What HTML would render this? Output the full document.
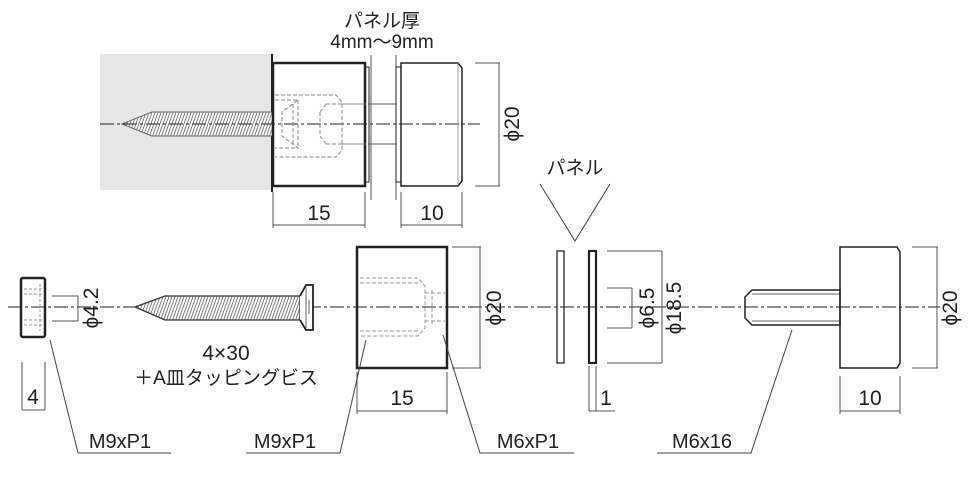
<!DOCTYPE html>
<html><head><meta charset="utf-8"><style>
html,body{margin:0;padding:0;background:#fff}
svg{display:block}
text{font-family:"Liberation Sans Narrow","Liberation Sans","Noto Sans CJK JP",sans-serif;fill:#222}
.j{font-family:"Liberation Sans","Noto Sans CJK JP",sans-serif}
</style></head><body>
<svg width="968" height="477" viewBox="0 0 968 477" xmlns="http://www.w3.org/2000/svg">
<defs>
<pattern id="th" width="3" height="24" patternUnits="userSpaceOnUse" patternTransform="skewX(-20)">
<rect width="3" height="24" fill="#fff"/><line x1="1" y1="0" x2="1" y2="24" stroke="#666" stroke-width="0.9"/>
</pattern>
</defs>
<rect x="100" y="54" width="172" height="136" fill="#e6e6e6"/>
<line x1="272" y1="54" x2="272" y2="192" stroke="#222" stroke-width="2"/>
<polygon points="122,124 152,112 273,112 273,136 152,136" fill="url(#th)" stroke="#666" stroke-width="1"/>
<line x1="100" y1="124" x2="480" y2="124" stroke="#222" stroke-width="1" stroke-dasharray="14,3,3,3"/>
<rect x="273" y="63" width="92" height="123" fill="none" stroke="#222" stroke-width="2.5"/>
<g fill="none" stroke="#888" stroke-width="1" stroke-dasharray="4,2">
<path d="M275,95 H336 L342,102 V150 L336,157 H275"/>
<path d="M342,104 H365 M342,144 H365"/>
<path d="M326,104 H370 M326,144 H370 M320,112 L326,104 M320,136 L326,144 M320,112 V136"/>
<path d="M275,100 H298 L282,112 V136 L298,148 H275 M298,100 V148 M293,104 V144"/>
</g>
<rect x="365" y="67" width="4" height="115" fill="none" stroke="#222" stroke-width="1"/>
<line x1="371" y1="55" x2="371" y2="200" stroke="#555" stroke-width="1"/>
<line x1="396" y1="55" x2="396" y2="200" stroke="#555" stroke-width="1"/>
<rect x="396" y="67" width="5" height="115" fill="none" stroke="#222" stroke-width="1"/>
<line x1="369" y1="104" x2="396" y2="104" stroke="#555"/><line x1="369" y1="144" x2="396" y2="144" stroke="#555"/>
<path d="M401,63 H458 L462,68 V181 L458,186 H401 Z" fill="none" stroke="#222" stroke-width="1.5"/>
<line x1="458" y1="63" x2="458" y2="186" stroke="#888" stroke-width="0.8"/>
<text x="382" y="27" font-size="19" text-anchor="middle" class="j">パネル厚</text>
<text x="382" y="48" font-size="19" text-anchor="middle">4mm～9mm</text>
<g stroke="#555" stroke-width="1" fill="none">
<path d="M475,63 H500 M475,186 H500 M499,63 V186"/>
<path d="M273,192 V228 M365,192 V228 M273,225 H365"/>
<path d="M401,192 V228 M462,192 V228 M401,225 H462"/>
</g>
<text transform="translate(519,124) rotate(-90)" font-size="21" text-anchor="middle">ϕ20</text>
<text x="319" y="220" font-size="21" text-anchor="middle">15</text>
<text x="432" y="220" font-size="21" text-anchor="middle">10</text>

<line x1="8" y1="307" x2="940" y2="307" stroke="#222" stroke-width="1" stroke-dasharray="14,3,3,3"/>
<rect x="21" y="278" width="24" height="59" rx="2" fill="none" stroke="#222" stroke-width="2.5"/>
<g stroke="#999" stroke-dasharray="3,2" fill="none"><path d="M24,289 H42 M24,294 H42 M24,320 H42 M24,325 H42 M40,284 V331"/></g>
<g stroke="#555" fill="none"><path d="M52,296 H78 M52,321 H78 M78,296 V321 M22,362 V410 M45,362 V410 M22,410 H45"/></g>
<text transform="translate(98,308) rotate(-90)" font-size="21" text-anchor="middle">ϕ4.2</text>
<text x="33" y="404" font-size="21" text-anchor="middle">4</text>
<polygon points="135,307 165,296 300,296 300,320 165,320" fill="url(#th)" stroke="#333" stroke-width="1.3"/>
<path d="M300,296 L306,285 H313 V330 H306 L300,320" fill="#fff" stroke="#222" stroke-width="1.8"/>
<path d="M306,287 V328 M309,300 V314" stroke="#666" fill="none"/>
<text x="226" y="360" font-size="21" text-anchor="middle">4×30</text>
<text x="226" y="384" font-size="19" text-anchor="middle" class="j">＋A皿タッピングビス</text>
<rect x="357" y="247" width="90" height="121" fill="none" stroke="#222" stroke-width="2.5"/>
<g stroke="#999" stroke-width="1" stroke-dasharray="4,2" fill="none">
<path d="M360,278 H418 L425,286 V328 L418,336 H360 M360,283 H418 M360,331 H418"/>
<path d="M425,293 H445 M425,321 H445 M432,290 V324"/>
</g>
<g stroke="#555" fill="none"><path d="M452,247 H481 M452,368 H481 M480,247 V368 M357,372 V414 M447,372 V414 M357,411 H447"/></g>
<text transform="translate(501,308) rotate(-90)" font-size="21" text-anchor="middle">ϕ20</text>
<text x="402" y="405" font-size="21" text-anchor="middle">15</text>
<g stroke="#444" stroke-width="1" fill="none">
<path d="M50,340 L78,453 H171"/>
<path d="M366,340 L340,453 H246"/>
<path d="M443,335 L480,453 H574"/>
<path d="M792,330 L751,453 H657"/>
<path d="M540,184 L575,241 L610,184"/>
</g>
<text x="120" y="448" font-size="20" text-anchor="middle">M9xP1</text>
<text x="285" y="448" font-size="20" text-anchor="middle">M9xP1</text>
<text x="528" y="448" font-size="20" text-anchor="middle">M6xP1</text>
<text x="702" y="448" font-size="20" text-anchor="middle">M6x16</text>
<text x="575" y="174" font-size="19" text-anchor="middle" class="j">パネル</text>
<rect x="557" y="251" width="7" height="112" fill="none" stroke="#222" stroke-width="1.3"/>
<rect x="589" y="251" width="7" height="112" fill="none" stroke="#222" stroke-width="2.2"/>
<g stroke="#555" fill="none">
<path d="M607,288 H632 M607,328 H632 M632,288 V328"/>
<path d="M607,251 H662 M607,363 H662 M662,251 V363"/>
<path d="M589,366 V411 M596,366 V411 M589,411 H615"/>
</g>
<text transform="translate(654,308) rotate(-90)" font-size="21" text-anchor="middle">ϕ6.5</text>
<text x="0" y="0" transform="translate(681,308) rotate(-90)" font-size="21" text-anchor="middle">ϕ18.5</text>
<text x="606" y="405" font-size="21" text-anchor="middle">1</text>
<path d="M752,290 H840 V325 H752 L745,318 V297 Z" fill="none" stroke="#222" stroke-width="1.5"/>
<path d="M752,294 H840 M752,321 H840" stroke="#666" fill="none"/>
<path d="M840,247 H897 L900,252 V363 L897,368 H840 Z" fill="none" stroke="#222" stroke-width="1.5"/>
<g stroke="#555" fill="none"><path d="M912,247 H938 M912,368 H938 M937,247 V368 M840,376 V414 M900,376 V414 M840,411 H900"/></g>
<text transform="translate(957,308) rotate(-90)" font-size="21" text-anchor="middle">ϕ20</text>
<text x="870" y="405" font-size="21" text-anchor="middle">10</text>
</svg>
</body></html>
